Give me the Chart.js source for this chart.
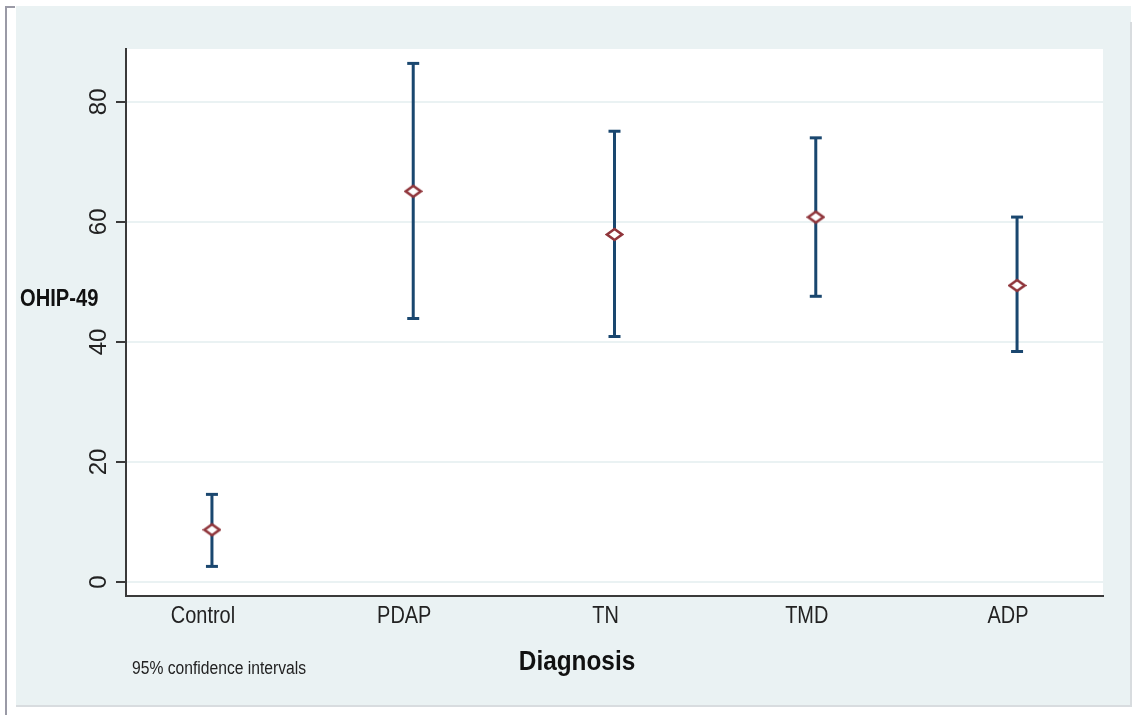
<!DOCTYPE html>
<html>
<head>
<meta charset="utf-8">
<script src="https://cdn.jsdelivr.net/npm/chart.js@4/dist/chart.umd.min.js"></script>
<style>
html,body{margin:0;padding:0;background:#fff;}
#wrap{width:1136px;height:715px;}
</style>
</head>
<body>
<div id="wrap"><canvas id="c" width="1136" height="715"></canvas></div>
<script>
// ---- data ----
const categories = ['Control', 'PDAP', 'TN', 'TMD', 'ADP'];
const means = [8.7, 65.1, 57.9, 60.8, 49.4];
const lowerCI = [2.6, 43.9, 40.9, 47.6, 38.4];
const upperCI = [14.6, 86.4, 75.1, 74.0, 60.8];
const yTickValues = [0, 20, 40, 60, 80];
const xTitle = 'Diagnosis';
const yTitle = 'OHIP-49';
const noteText = '95% confidence intervals';

// ---- styles ----
const NAVY = '#1a476f';
const MAROON = '#90353b';
const BG = '#eaf2f3';
const AXIS = '#3a3a3a';
const SANS = "'Liberation Sans', Arial, sans-serif";

// hollow diamond marker
const diamond = document.createElement('canvas');
diamond.width = 19; diamond.height = 15;
(function(){
  const g = diamond.getContext('2d');
  g.beginPath();
  g.moveTo(2, 7.5); g.lineTo(9.5, 2); g.lineTo(17, 7.5); g.lineTo(9.5, 13); g.closePath();
  g.fillStyle = '#ffffff'; g.fill();
  g.lineWidth = 2.6; g.strokeStyle = MAROON; g.stroke();
})();

const meanPoints = means.map((v, i) => ({x: i + 1, y: v}));
const ciPoints = [];
categories.forEach((c, i) => {
  ciPoints.push({x: i + 1, y: lowerCI[i]});
  ciPoints.push({x: i + 1, y: upperCI[i]});
  ciPoints.push({x: i + 1, y: null});
});

function squeezedText(ctx, text, x, y, sx, align) {
  ctx.save();
  ctx.translate(x, y);
  ctx.scale(sx, 1);
  ctx.textAlign = align;
  ctx.fillText(text, 0, 0);
  ctx.restore();
}

const decor = {
  id: 'decor',
  beforeDraw(chart) {
    const ctx = chart.ctx;
    const a = chart.chartArea;
    ctx.save();
    ctx.fillStyle = '#ffffff';
    ctx.fillRect(0, 0, chart.width, chart.height);
    ctx.fillStyle = BG;
    ctx.fillRect(16, 6, 1115, 699);
    ctx.strokeStyle = '#d8dcdf';
    ctx.lineWidth = 2;
    ctx.beginPath(); ctx.moveTo(16, 706); ctx.lineTo(1131, 706); ctx.lineTo(1131, 22); ctx.stroke();
    ctx.strokeStyle = '#9a9aa6';
    ctx.lineWidth = 2;
    ctx.beginPath(); ctx.moveTo(6, 715); ctx.lineTo(6, 7); ctx.lineTo(15, 7); ctx.stroke();
    ctx.fillStyle = '#ffffff';
    ctx.fillRect(a.left, a.top, a.right - a.left, a.bottom - a.top);
    ctx.restore();
  },
  afterDraw(chart) {
    const ctx = chart.ctx;
    const xs = chart.scales.x, ys = chart.scales.y;
    ctx.save();
    ctx.textBaseline = 'middle';
    // x tick labels
    ctx.fillStyle = '#222222';
    ctx.font = "24px " + SANS;
    categories.forEach((c, i) => {
      squeezedText(ctx, c, xs.getPixelForValue(i + 1) - 9, 616, 0.83, 'center');
    });
    // y tick labels (rotated)
    yTickValues.forEach(v => {
      ctx.save();
      ctx.translate(99, ys.getPixelForValue(v));
      ctx.rotate(-Math.PI / 2);
      ctx.textAlign = 'center';
      ctx.fillText(String(v), 0, 0);
      ctx.restore();
    });
    // titles
    ctx.fillStyle = '#111111';
    ctx.font = "bold 28px " + SANS;
    squeezedText(ctx, xTitle, 577, 662, 0.87, 'center');
    ctx.font = "bold 23px " + SANS;
    squeezedText(ctx, yTitle, 20, 300, 0.876, 'left');
    ctx.font = "18px " + SANS;
    ctx.fillStyle = '#222222';
    squeezedText(ctx, noteText, 132, 669, 0.87, 'left');
    ctx.restore();
  }
};

new Chart(document.getElementById('c'), {
  type: 'scatter',
  data: {
    datasets: [
      {
        label: 'mean',
        data: meanPoints,
        pointStyle: diamond,
        pointRadius: 8,
        showLine: false
      },
      {
        label: 'ci',
        data: ciPoints,
        showLine: true,
        spanGaps: false,
        borderColor: NAVY,
        borderWidth: 3,
        pointStyle: 'line',
        pointRadius: 6,
        pointBorderWidth: 3,
        pointBorderColor: NAVY,
        pointBackgroundColor: NAVY
      }
    ]
  },
  options: {
    responsive: false,
    animation: false,
    events: [],
    layout: {padding: {left: 0, top: 49, right: 33, bottom: 0}},
    plugins: {legend: {display: false}, tooltip: {enabled: false}},
    scales: {
      x: {
        type: 'linear',
        min: 0.573,
        max: 5.427,
        afterBuildTicks(s) { s.ticks = categories.map((c, i) => ({value: i + 1})); },
        afterFit(s) { s.height = 119; },
        grid: {display: true, drawOnChartArea: false, drawTicks: false, color: 'rgba(0,0,0,0)'},
        border: {display: true, color: AXIS, width: 2},
        ticks: {display: false}
      },
      y: {
        type: 'linear',
        min: -2.33,
        max: 88.8,
        afterBuildTicks(s) { s.ticks = yTickValues.map(v => ({value: v})); },
        afterFit(s) { s.width = 126; },
        grid: {color: BG, lineWidth: 2, drawTicks: true, tickLength: 10, tickColor: AXIS, tickWidth: 2},
        border: {display: true, color: AXIS, width: 2},
        ticks: {display: false}
      }
    }
  },
  plugins: [decor]
});
</script>
</body>
</html>
